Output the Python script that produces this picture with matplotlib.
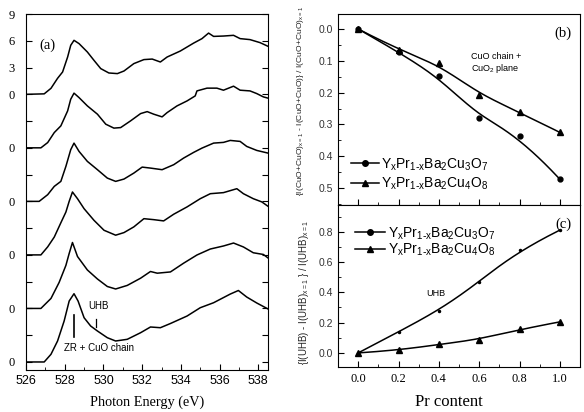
import numpy as np
import matplotlib
matplotlib.use("Agg")
import matplotlib.pyplot as plt
from matplotlib.lines import Line2D
from matplotlib.ticker import MultipleLocator, FormatStrFormatter

plt.rcParams['font.family'] = ['Liberation Sans', 'DejaVu Sans']
plt.rcParams['mathtext.default'] = 'regular'

# ---------------- panel (a): O K-edge XAS spectra (stacked) ----------------
e1 = [526.05, 526.94, 527.29, 527.63, 527.89, 528.15, 528.31, 528.48, 528.74, 529.17, 529.51, 529.86,
      530.28, 530.72, 531.06, 531.57, 532.09, 532.52, 532.94, 533.29, 533.97, 534.66, 535.09, 535.43,
      535.69, 536.20, 536.72, 537.06, 537.57, 538.09, 538.5]
i1 = [0.0, 0.05, 0.67, 1.79, 2.50, 4.18, 5.49, 6.05, 5.68, 4.74, 3.81, 2.88, 2.39, 2.32, 2.61, 3.44,
      3.89, 3.95, 3.62, 4.18, 4.85, 5.74, 6.24, 6.86, 6.49, 6.53, 6.61, 6.24, 6.13, 5.79, 5.38]

e2 = [526.05, 526.77, 527.12, 527.46, 527.80, 528.15, 528.31, 528.48, 528.74, 529.17, 529.69, 530.12,
      530.54, 530.89, 531.40, 531.92, 532.26, 532.60, 533.03, 533.29, 533.80, 534.32, 534.74, 534.83,
      535.35, 535.86, 536.20, 536.72, 537.06, 537.57, 537.92, 538.26, 538.5]
i2 = [0, 0, 0.59, 1.71, 2.46, 4.14, 5.45, 6.13, 5.63, 4.70, 3.77, 2.65, 2.21, 2.27, 3.02, 3.84, 4.06,
      3.77, 3.47, 3.95, 4.70, 5.26, 5.82, 6.38, 6.69, 6.69, 6.46, 6.91, 6.46, 6.38, 6.08, 5.71, 5.57]

e3 = [526.05, 526.68, 527.12, 527.46, 527.80, 528.06, 528.31, 528.48, 528.74, 529.17, 529.69, 530.20,
      530.63, 531.06, 531.57, 532.00, 532.43, 533.03, 533.63, 534.14, 534.66, 535.09, 535.69, 536.20,
      536.55, 537.06, 537.40, 537.92, 538.5]
i3 = [0, 0, 0.75, 1.68, 2.24, 3.92, 5.79, 6.53, 5.60, 4.48, 3.55, 2.61, 2.24, 2.50, 3.17, 3.84, 3.73,
      3.55, 4.11, 4.85, 5.49, 5.97, 6.53, 6.61, 6.83, 6.72, 6.16, 5.71, 5.41]

e4 = [526.05, 526.77, 527.12, 527.46, 527.80, 528.06, 528.23, 528.40, 528.66, 529.00, 529.51, 530.03,
      530.63, 531.06, 531.57, 532.09, 532.60, 533.11, 533.63, 534.32, 535.00, 535.52, 536.20, 536.89,
      537.23, 537.74, 538.18, 538.5]
i4 = [0, 0, 0.9, 2.0, 3.6, 4.8, 6.0, 7.05, 6.30, 5.18, 3.88, 2.76, 2.21, 2.50, 3.14, 4.06, 3.95, 3.81,
      4.56, 5.38, 6.30, 6.86, 6.98, 7.42, 6.86, 6.30, 5.94, 5.45]

e5 = [526.05, 526.77, 527.29, 527.71, 528.06, 528.23, 528.40, 528.66, 529.17, 529.69, 530.20, 530.63,
      531.23, 531.92, 532.43, 532.78, 533.46, 534.14, 534.83, 535.52, 536.20, 536.72, 537.23, 537.74,
      538.26, 538.5]
i5 = [0, 0, 1.12, 2.91, 4.82, 6.16, 7.39, 5.82, 4.31, 3.30, 2.46, 2.18, 2.58, 3.39, 4.14, 3.95, 4.09,
      5.07, 5.99, 6.66, 7.00, 7.33, 6.89, 6.24, 6.05, 5.66]

e6 = [526.05, 526.94, 527.29, 527.63, 527.97, 528.23, 528.48, 528.69, 529.00, 529.34, 529.69, 530.20,
      530.63, 531.23, 531.92, 532.43, 532.94, 533.46, 534.32, 535.00, 535.69, 536.55, 536.97, 537.40,
      537.92, 538.5]
i6 = [0, 0, 0.86, 2.35, 4.59, 6.83, 7.65, 6.83, 4.96, 4.03, 3.47, 2.72, 2.35, 2.54, 3.28, 3.92, 3.84,
      4.31, 5.15, 6.08, 6.64, 7.61, 8.01, 7.28, 6.61, 5.94]

spectra = [(e1, i1), (e2, i2), (e3, i3), (e4, i4), (e5, i5), (e6, i6)]
offsets = [30, 24, 18, 12, 6, 0]
a_yticks = [0, 3, 6, 9, 12, 15, 18, 21, 24, 27, 30, 33, 36, 39]
a_yticklabels = ['0', '', '0', '', '0', '', '0', '', '0', '', '0', '3', '6', '9']
a_xticks = [526, 528, 530, 532, 534, 536, 538]

# ---------------- panel (b) and (c) ----------------
pr = [0.0, 0.2, 0.4, 0.6, 0.8, 1.0]
b_cu3o7 = [0.0, 0.073, 0.148, 0.281, 0.336, 0.472]
b_cu4o8 = [0.0, 0.066, 0.108, 0.208, 0.261, 0.325]
c_cu3o7 = [0.0, 0.139, 0.278, 0.470, 0.679, 0.811]
c_cu4o8 = [0.0, 0.018, 0.057, 0.088, 0.155, 0.205]
lab_cu3o7 = r"Y$_{x}$Pr$_{1\text{-}x}$Ba$_{2}$Cu$_{3}$O$_{7}$"
lab_cu4o8 = r"Y$_{x}$Pr$_{1\text{-}x}$Ba$_{2}$Cu$_{4}$O$_{8}$"


def bspline(cx, cy, n=200, k=3):
    """Clamped cubic B-spline using the data points as control points (Origin-style)."""
    cx = np.asarray(cx, float)
    cy = np.asarray(cy, float)
    m = len(cx)
    t = np.concatenate([np.zeros(k), np.linspace(0, 1, m - k + 1), np.ones(k)])
    u = np.linspace(0, 1, n)
    u[-1] -= 1e-9

    def N(i, p, u):
        if p == 0:
            return np.where((t[i] <= u) & (u < t[i + 1]), 1.0, 0.0)
        a = (u - t[i]) / (t[i + p] - t[i]) if t[i + p] > t[i] else 0.0
        b = (t[i + p + 1] - u) / (t[i + p + 1] - t[i + 1]) if t[i + p + 1] > t[i + 1] else 0.0
        return a * N(i, p - 1, u) + b * N(i + 1, p - 1, u)

    B = np.array([N(i, k, u) for i in range(m)])
    return cx @ B, cy @ B


W, H = 584, 412
fig = plt.figure(figsize=(W / 100, H / 100), dpi=100)


def rect(l, t, r, b):
    return [l / W, 1 - b / H, (r - l) / W, (b - t) / H]


serif = ['Liberation Serif', 'DejaVu Serif']

# ---- (a)
axa = fig.add_axes(rect(26, 14, 268, 370))
for (e, i), off in zip(spectra, offsets):
    axa.plot(e, np.asarray(i) + off, color='black', lw=1.1)
axa.set_xlim(526.05, 538.5)
axa.set_ylim(-0.9, 39)
axa.set_yticks(a_yticks)
axa.set_yticklabels(a_yticklabels)
axa.set_xticks(a_xticks)
axa.xaxis.set_minor_locator(MultipleLocator(1))
axa.tick_params(axis='both', which='both', direction='in', right=True, labelsize=9)
axa.tick_params(which='major', length=4)
axa.tick_params(which='minor', length=2.5)
axa.tick_params(axis='y', pad=8)
for lbl in axa.get_yticklabels():
    lbl.set_family(serif)
axa.set_xlabel('Photon Energy (eV)', family=serif, fontsize=10.3, labelpad=6)
axa.text(526.7, 35.5, '(a)', family=serif, fontsize=10.5, va='center')
axa.text(529.2, 6.3, 'UHB', fontsize=7, va='center')
axa.text(527.95, 1.6, 'ZR + CuO chain', fontsize=7, va='center')
axa.plot([528.48, 528.48], [2.8, 5.3], color='black', lw=1.2)
axa.plot([529.64, 529.64], [3.9, 4.8], color='black', lw=0.9)

# ---- (b)
axb = fig.add_axes(rect(338, 14, 580, 205))
xs, ys = bspline(pr, b_cu3o7)
axb.plot(xs, ys, color='black', lw=1.1)
axb.plot(pr, b_cu3o7, 'o', color='black', ms=3.5)
xs, ys = bspline(pr, b_cu4o8)
axb.plot(xs, ys, color='black', lw=1.1)
axb.plot(pr, b_cu4o8, '^', color='black', ms=4)
axb.set_xlim(-0.1, 1.1)
axb.set_ylim(0.553, -0.047)
axb.yaxis.set_major_locator(MultipleLocator(0.1))
axb.yaxis.set_minor_locator(MultipleLocator(0.05))
axb.xaxis.set_major_locator(MultipleLocator(0.2))
axb.xaxis.set_minor_locator(MultipleLocator(0.1))
axb.tick_params(which='both', direction='in', labelsize=7.5, labelcolor='#333333')
axb.tick_params(which='major', length=4)
axb.tick_params(which='minor', length=2.5)
axb.tick_params(axis='x', labelbottom=False)
axb.yaxis.set_major_formatter(FormatStrFormatter('%.1f'))
axb.text(0.965, 0.9, '(b)', transform=axb.transAxes, family=serif, fontsize=10.5, ha='right', va='center')
axb.text(0.56, 0.086, 'CuO chain +', fontsize=6.5, va='center')
axb.text(0.56, 0.124, r'CuO$_2$ plane', fontsize=6.5, va='center')
hb = [Line2D([], [], color='black', marker='o', ms=4, lw=1.1),
      Line2D([], [], color='black', marker='^', ms=5, lw=1.1)]
axb.legend(hb, [lab_cu3o7, lab_cu4o8], loc='upper left', bbox_to_anchor=(0.055, 0.255),
           frameon=False, fontsize=10, handlelength=2.0, handletextpad=0.15,
           labelspacing=0.2, borderpad=0, borderaxespad=0)

# ---- (c)
axc = fig.add_axes(rect(338, 205, 580, 367))
xs, ys = bspline(pr, c_cu3o7)
axc.plot(xs, ys, color='black', lw=1.1)
axc.plot(pr, c_cu3o7, 'o', color='black', ms=1.5)
xs, ys = bspline(pr, c_cu4o8)
axc.plot(xs, ys, color='black', lw=1.1)
axc.plot(pr, c_cu4o8, '^', color='black', ms=4)
axc.set_xlim(-0.1, 1.1)
axc.set_ylim(-0.093, 0.977)
axc.yaxis.set_major_locator(MultipleLocator(0.2))
axc.yaxis.set_minor_locator(MultipleLocator(0.1))
axc.xaxis.set_major_locator(MultipleLocator(0.2))
axc.xaxis.set_minor_locator(MultipleLocator(0.1))
axc.tick_params(which='both', direction='in')
axc.tick_params(which='major', length=4)
axc.tick_params(which='minor', length=2.5)
axc.tick_params(axis='y', labelsize=7.5, labelcolor='#333333')
axc.tick_params(axis='x', labelsize=9, pad=4)
axc.yaxis.set_major_formatter(FormatStrFormatter('%.1f'))
axc.xaxis.set_major_formatter(FormatStrFormatter('%.1f'))
for lbl in axc.get_xticklabels():
    lbl.set_family(serif)
axc.set_xlabel('Pr content', family=serif, fontsize=12)
axc.xaxis.set_label_coords(0.459, -0.216)
axc.xaxis.label.set_va('center')
axc.text(0.965, 0.88, '(c)', transform=axc.transAxes, family=serif, fontsize=10.5, ha='right', va='center')
axc.text(0.34, 0.39, 'UHB', fontsize=6.5, va='center')
hc = [Line2D([], [], color='black', marker='o', ms=4, lw=1.1),
      Line2D([], [], color='black', marker='^', ms=5, lw=1.1)]
axc.legend(hc, [lab_cu3o7, lab_cu4o8], loc='upper left', bbox_to_anchor=(0.07, 0.875),
           frameon=False, fontsize=10, handlelength=2.2, handletextpad=0.15,
           labelspacing=0.0, borderpad=0, borderaxespad=0)

# rotated y labels
fig.text(301 / W, 1 - 196 / H,
         r"{I(CuO+CuO)$_{x=1}$ - I(CuO+CuO)} / I(CuO+CuO)$_{x=1}$",
         rotation=90, fontsize=6.1, ha='center', va='bottom', color='#222222')
fig.text(304 / W, 1 - 292 / H,
         r"{I(UHB) - I(UHB)$_{x=1}$ } / I(UHB)$_{x=1}$",
         rotation=90, fontsize=7, ha='center', va='center', color='#222222')

fig.savefig('out.png', dpi=100)
